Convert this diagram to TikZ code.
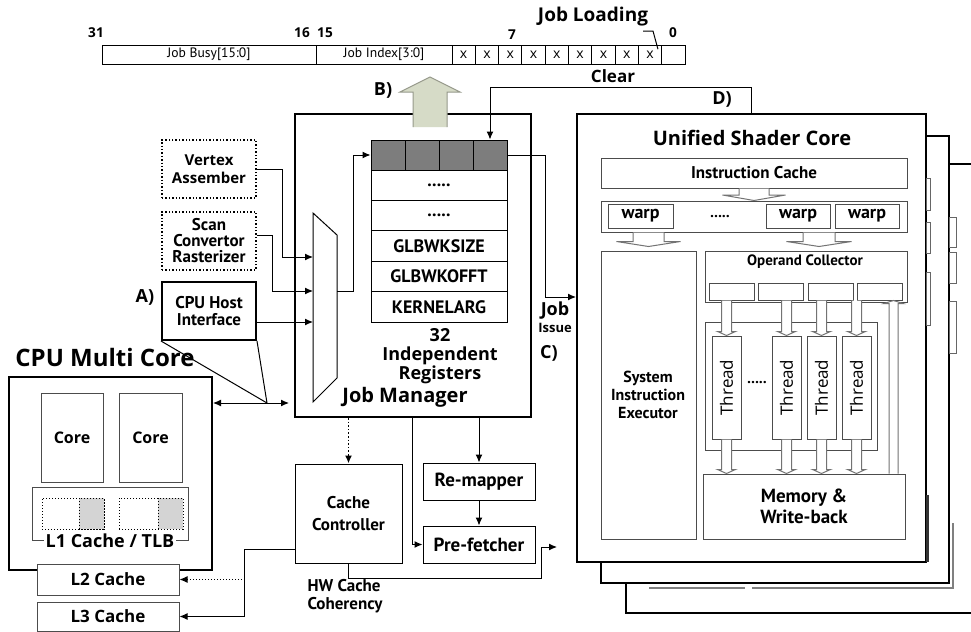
\documentclass[tikz,border=0pt]{standalone}
\usepackage{fontspec}
\setmainfont{Open Sans}
\newfontfamily\etroit{PT Sans}
\usetikzlibrary{arrows.meta,calc}

\definecolor{vertpale}{RGB}{214,219,199}
\definecolor{gris}{RGB}{125,125,125}
\definecolor{grisclair}{RGB}{212,212,212}

\newcommand{\osb}[2]{\fontsize{#1}{#2}\selectfont\bfseries}
\newcommand{\ptb}[2]{\etroit\fontsize{#1}{#2}\selectfont\bfseries}
\newcommand{\ptr}[2]{\etroit\fontsize{#1}{#2}\selectfont}
\newcommand{\cinqpoints}{.....}

% fleche creuse : depart, pointe, demi-fut, demi-tete, longueur de tete
\newcommand{\creuse}[5]{%
  \draw[fleche creuse] let \p1=(#1), \p2=(#2) in
    ({\x2-#3},{\y1}) -- ({\x2-#3},{\y2+(#5)}) -- ({\x2-#4},{\y2+(#5)}) -- (\x2,\y2)
    -- ({\x2+#4},{\y2+(#5)}) -- ({\x2+#3},{\y2+(#5)}) -- ({\x2+#3},{\y1});}

\begin{document}
\begin{tikzpicture}[
    x=0.5pt, y=-0.5pt, line width=0.5pt,
    >={Latex[length=4pt,width=3.5pt]},
    boite/.style={draw, inner sep=0pt, align=center, fill=white},
    fine/.style={boite, draw=black!70},
    epaisse/.style={boite, line width=1pt},
    pointille/.style={boite, densely dotted, line width=0.7pt},
    taille/.style 2 args={minimum width=#1pt, minimum height=#2pt},
    fleche creuse/.style={draw=black!55, fill=white, line width=0.5pt},
  ]
  \useasboundingbox (0,0) rectangle (971,632);

  % registre d'etat des taches
  \node[boite, taille={107}{9.5}, font=\ptr{6.8}{8}] (busy) at (209,54.5) {Job Busy[15:0]};
  \node[boite, taille={68}{9.5}, font=\ptr{6.8}{8}] (index) at (384,54.5) {Job Index[3:0]};
  \foreach \i in {0,...,8}
    \node[boite, taille={11.65}{9.5}, font=\fontsize{7}{8}\selectfont] (c\i) at ({463.65+23.3*\i},54.5) {x};
  \node[boite, taille={11.65}{9.5}] (c9) at (673.35,54.5) {};
  \foreach \t/\x/\y in {31/96/33, 16/302/33, 15/325/33, 7/512/35, 0/673/33}
    \node[font=\osb{6.8}{8}] (n\t) at (\x,\y) {\t};
  \node[font=\osb{9.5}{11}] (load) at (593,17) {Job Loading};
  \coordinate (renvoi) at (643,31);
  \draw (renvoi) -- ++(10,0) -- ([xshift=-2pt,yshift=-2pt]n0.south west);
  \node[font=\osb{8.5}{10}] (clear) at (613,76) {Clear};

  % gestionnaire de taches
  \node[epaisse, taille={118}{151.5}] (jm) at (413,265.5) {};
  \node[font=\osb{10}{12}] (jmt) at (405,397) {Job Manager};
  \foreach \i in {1,...,4}
    \node[boite, fill=gris, taille={17}{15}] (g\i) at ({388+34*(\i-1)},155) {};
  \foreach \lab [count=\i] in {\cinqpoints,\cinqpoints,GLBWKSIZE,GLBWKOFFT,KERNELARG}
    \node[boite, taille={68}{15.2}, font=\ptb{9}{10}] (r\i) at (439,{185.2+30.4*(\i-1)}) {\lab};
  \node[font=\osb{9}{9.5}, align=center] (nreg) at (440,356) {32\\Independent\\Registers};

  % multiplexeur
  \draw (313,213) -- (337,235) -- (337,378) -- (313,402) -- cycle;
  \coordinate (mux1) at (313,257);
  \coordinate (mux2) at (313,291);
  \coordinate (mux3) at (313,322);
  \coordinate (muxs) at (337,291);
  \draw[->] (muxs) -- ++(16,0) |- (g1.west);

  % fleche B)
  \fill[vertpale] (413,127) -- (413,92) -- (400,92) -- (430,77) -- (460,92) -- (447,92) -- (447,127) -- cycle;
  \draw[vertpale!70!black] (413,127) -- (413,92) -- (400,92) -- (430,77) -- (460,92) -- (447,92) -- (447,127);
  \node[font=\osb{9}{10}] (lb) at (383,90) {B)};

  % sources
  \node[pointille, taille={47}{29}, font=\osb{7.5}{9}] (va) at (209,169) {Vertex\\Assember};
  \node[pointille, taille={47}{29}, font=\ptb{8.5}{8}] (sc) at (209,241) {Scan\\Convertor\\Rasterizer};
  \node[epaisse, taille={47}{29}, font=\ptb{8.5}{8.5}] (hi) at (209,311) {CPU Host\\Interface};
  \node[font=\osb{9}{10}] (la) at (145,297) {A)};
  \draw[->] (va.east) -- ++(26,0) |- (mux1);
  \draw[->] ([yshift=3pt]sc.east) -- ++(16,0) |- (mux2);
  \draw[->] (hi.east |- mux3) -- (mux3);

  % processeur hote
  \node[font=\osb{12}{14}] (cpuT) at (105,357) {CPU Multi Core};
  \node[epaisse, taille={101.5}{96.5}] (cpu) at (110.5,473.5) {};
  \node[fine, taille={31}{44.5}, font=\osb{8}{9}] (core1) at (72,437.5) {Core};
  \node[fine, taille={31.5}{44.5}, font=\osb{8}{9}] (core2) at (150.5,437.5) {Core};
  \node[fine, taille={78}{26.5}] (l1) at (110,513.5) {};
  \node[pointille, line width=0.5pt, taille={31}{15.5}] (tlb1) at (73,513.5) {};
  \node[pointille, line width=0.5pt, fill=grisclair, taille={12.5}{15.5}] (tlb1g) at (91.5,513.5) {};
  \node[pointille, line width=0.5pt, taille={32}{15.5}] (tlb2) at (151,513.5) {};
  \node[pointille, line width=0.5pt, fill=grisclair, taille={12.5}{15.5}] (tlb2g) at (170.5,513.5) {};
  \node[fill=white, inner sep=1pt, font=\osb{9}{10}] (l1t) at (l1.south) {L1 Cache / TLB};
  \node[boite, draw=black!70, taille={71}{15.5}, font=\osb{8.5}{10}] (l2) at (108,579.5) {L2 Cache};
  \node[boite, draw=black!70, taille={71}{14.5}, font=\osb{8.5}{10}] (l3) at (108,616.5) {L3 Cache};
  \coordinate (bus) at (267,403);
  \draw (hi.south west) -- (bus) -- (hi.south east);
  \draw[<->] (cpu.east |- bus) -- ($(jm.west |- bus)+(-5,0)$);

  % caches et prechargement
  \node[boite, taille={53.5}{49.5}, font=\ptb{8.5}{11}] (cc) at (348.5,513.5) {Cache\\Controller};
  \node[boite, taille={56}{18.5}, font=\ptb{9.5}{10}] (rm) at (479,481.5) {Re-mapper};
  \node[boite, taille={56}{18.5}, font=\ptb{9.5}{10}] (pf) at (479,544.5) {Pre-fetcher};
  \draw[->, densely dotted, line width=0.8pt] (jm.south -| cc.north) -- (cc.north);
  \draw[->] (jm.south -| rm.north) -- (rm.north);
  \draw[->] (rm.south) -- (pf.north);
  \draw[->] (412,0 |- jm.south) |- (pf.west);
  \draw[->] ([yshift=-17.75pt]cc.west) -- ++(-50,0) coordinate (nd) |- (l3.east);
  \draw[->, densely dotted] (nd |- l2.east) -- (l2.east);
  \coordinate (hw) at (557,547);
  \draw[->] (cc.south) |- (541,578) |- (hw);
  \node[font=\ptb{8.5}{9}, align=left, anchor=west, inner sep=0pt] (hwt) at (307,596) {HW Cache\\Coherency};

  % coeurs de shader empiles
  \filldraw[fill=white, line width=1pt] (980,164) -- (626,164) -- (626,613) -- (980,613);
  \node[epaisse, taille={174}{223.5}] (usc2) at (775,359.5) {};
  \draw[gray, line width=1pt] (649,588) -- (745,588) (752,588) -- (953,588) -- (953,523);
  \foreach \a/\b in {217/247,252/283,301/353}
    \draw[gray!80!black] (949,\a) rectangle (956,\b);
  \node[epaisse, taille={174.5}{224}] (usc) at (751.5,338) {};
  \foreach \a/\b in {178/210,222/253,272/325}
    \draw[gray!80!black] (926,\a) rectangle (930,\b);
  \draw[black!80, line width=1.5pt] (927.5,495) -- (927.5,562);
  \node[font=\osb{10}{12}] (uscT) at (752,138) {Unified Shader Core};
  \node[fine, taille={153}{15}, font=\ptb{8.5}{10}] (ic) at (754,173) {Instruction Cache};
  \node[fine, taille={153}{15.5}] (wr) at (754,216.5) {};
  \node[fine, taille={32.5}{12}, font=\ptb{9}{10}] (w1) at (640.5,216) {warp};
  \node[fine, taille={32}{12}, font=\ptb{9}{10}] (w2) at (798,216) {warp};
  \node[fine, taille={32}{12}, font=\ptb{9}{10}] (w3) at (867,216) {warp};
  \node[font=\osb{7}{8}] (wdots) at (720,217) {.....};
  \node[fine, taille={47.5}{144}] (sie) at (648.5,395) {};
  \node[font=\ptb{8}{9}, align=center] (siet) at (648,395) {System\\Instruction\\Executor};
  \node[fine, taille={101}{25.5}] (oc) at (806,276.5) {};
  \node[font=\ptb{7.5}{8}] (oct) at (805,262) {Operand Collector};
  \foreach \x [count=\i] in {731.5,780.5,830.5,879.5}
    \node[fine, taille={22.5}{8.5}] (o\i) at (\x,291.5) {};
  \node[fine, taille={86}{64}] (tg) at (791,386) {};
  \foreach \x [count=\i] in {726.5,786.5,821.5,856.5} {
    \node[fine, taille={14.5}{51.5}] (t\i) at (\x,387.5) {};
    \node[rotate=90, font=\fontsize{8.5}{9}\selectfont] (tt\i) at (t\i) {Thread};
  }
  \node[font=\osb{7}{8}] (tdots) at (757,383) {.....};
  \node[fine, taille={101}{32.5}, font=\ptb{9.5}{10.5}] (mem) at (804,506.5) {Memory \&\\Write-back};

  % fleches creuses
  \creuse{ic.south}{wr.north}{7.5pt}{15.75pt}{2.75pt}
  \creuse{wr.south -| sie.north}{[yshift=2pt]sie.north}{7.75pt}{16pt}{2.5pt}
  \creuse{wr.south}{[xshift=6.5pt,yshift=2pt]oc.north}{8pt}{16.25pt}{2.5pt}
  \foreach \i in {1,...,4} {
    \creuse{o\i.south}{t\i.north}{2.5pt}{4.5pt}{2pt}
    \creuse{t\i.south}{t\i.south |- mem.north}{2.5pt}{4.5pt}{2pt}
  }
  \creuse{mem.north}{[xshift=7pt]o4.south}{2.25pt}{4.75pt}{-1.5pt}

  % lancement et liberation des taches
  \draw[->] (g4.east) -- ++(38,0) |- ($(usc.west)+(0,-41)$);
  \node[font=\osb{9}{10}] (job) at (555,311) {Job};
  \node[font=\osb{6.5}{8}] (issue) at (555,328) {Issue};
  \node[font=\osb{9}{10}] (lc) at (549,353) {C)};
  \draw[->] (usc.north) -- ++(0,-26) -| (g4.north);
  \node[font=\osb{9}{10}] (ld) at (722,99) {D)};
\end{tikzpicture}
\end{document}
